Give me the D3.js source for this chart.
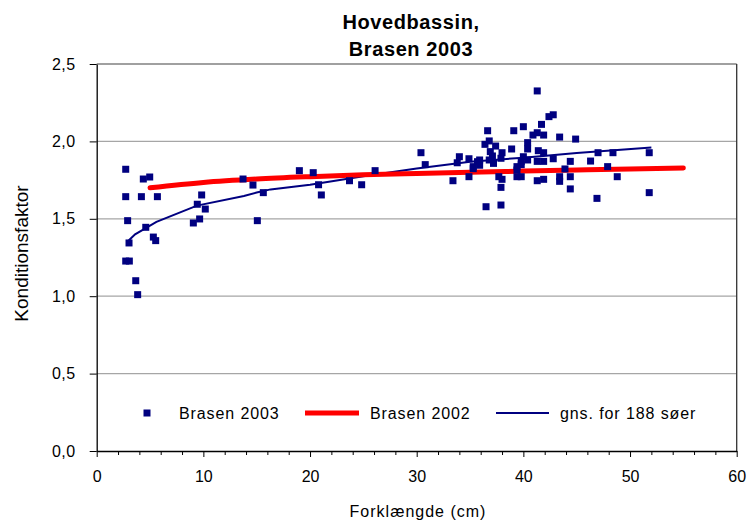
<!DOCTYPE html>
<html><head><meta charset="utf-8">
<script src="https://cdn.jsdelivr.net/npm/d3@7/dist/d3.min.js"></script>
<style>html,body{margin:0;padding:0;background:#fff;}svg{display:block;font-family:"Liberation Sans",Arial,sans-serif;}</style>
</head><body><svg id="c" width="749" height="522"></svg>
<script>
const titleLines = ["Hovedbassin,", "Brasen 2003"];
const xTitle = "Forklængde (cm)";
const yTitle = "Konditionsfaktor";
const xTicks = [0,10,20,30,40,50,60];
const yTicks = [0,0.5,1,1.5,2,2.5];
const seriesNames = ["Brasen 2003","Brasen 2002","gns. for 188 søer"];

// Brasen 2003 scatter (length cm, condition factor)
const lenBrasen2003 = [2.72,4.37,4.97,2.72,4.19,5.69,2.9,4.6,3.03,5.31,5.53,2.72,3.06,3.66,3.84,
 9.84,9.43,10.18,9.06,9.65,13.72,14.65,15.62,15.06,19.0,20.3,20.8,21.06,23.7,24.84,26.1,
 30.4,30.8,33.4,33.8,34.0,34.9,34.9,35.3,35.7,41.3,42.4,42.8,40.0,41.7,36.65,39.1,41.3,40.9,41.9,
 43.4,44.9,36.8,36.4,40.4,37.4,38.9,36.9,40.4,38.0,41.4,41.9,37.1,37.9,35.9,36.8,40.0,40.4,35.9,
 37.2,39.8,41.3,41.9,42.8,44.4,46.3,35.3,39.4,39.8,39.4,43.9,37.7,38.0,37.9,39.4,39.8,41.3,41.9,
 43.4,43.4,44.4,44.4,36.5,37.9,46.9,47.0,48.4,51.8,47.9,48.8,51.8];
const kBrasen2003 = [1.82,1.757,1.77,1.643,1.643,1.643,1.488,1.445,1.344,1.382,1.359,1.227,1.227,1.10,1.01,
 1.654,1.594,1.563,1.473,1.499,1.757,1.718,1.669,1.488,1.811,1.798,1.72,1.654,1.746,1.72,1.811,
 1.927,1.85,1.746,1.862,1.901,1.888,1.772,1.837,1.869,2.326,2.16,2.172,2.095,2.11,2.069,2.069,2.056,2.041,2.041,
 2.028,2.015,2.003,1.981,1.992,1.97,1.951,1.934,1.951,1.927,1.94,1.927,1.906,1.891,1.88,1.88,1.901,1.88,1.846,
 1.858,1.871,1.871,1.871,1.888,1.871,1.873,1.824,1.837,1.85,1.815,1.822,1.772,1.755,1.703,1.772,1.772,1.746,1.755,
 1.772,1.742,1.772,1.693,1.578,1.589,1.632,1.927,1.927,1.927,1.837,1.772,1.669];

// Brasen 2002 curve
const lenBrasen2002 = [5,10,15,20,25,30,35,40,45,50,55];
const kBrasen2002 = [1.70,1.735,1.757,1.772,1.784,1.793,1.801,1.808,1.815,1.822,1.828];

// average for 188 lakes
const lenAvg = [3,3.6,5.6,9.4,13.8,15,16.3,20,25,30,35,40,45,52];
const kAvg = [1.36,1.40,1.48,1.585,1.647,1.67,1.69,1.72,1.775,1.825,1.868,1.895,1.925,1.96];

const svg = d3.select("#c");
const m = {l:96.7, r:736.7, t:64, b:451};
const x = d3.scaleLinear().domain([0,60]).range([m.l,m.r]);
const y = d3.scaleLinear().domain([0,2.5]).range([m.b,m.t]);
const fmt = d => d3.format(".1f")(d).replace(".", ",");
const FF = "Liberation Sans, Arial, sans-serif";

// gridlines
svg.append("g").selectAll("line").data(yTicks.filter(d=>d>0)).join("line")
  .attr("x1",m.l).attr("x2",m.r).attr("y1",d=>y(d)).attr("y2",d=>y(d))
  .attr("stroke", d=> d===2.5 ? "#808080" : "#a6a6a6").attr("stroke-width",1.3);
// right border
svg.append("line").attr("x1",m.r).attr("x2",m.r).attr("y1",m.t).attr("y2",m.b).attr("stroke","#333").attr("stroke-width",1.3);

// axes
const yAxis = d3.axisLeft(y).tickValues(yTicks).tickFormat(fmt).tickSizeInner(7).tickSizeOuter(0).tickPadding(14);
const gy = svg.append("g").attr("transform",`translate(${m.l},0)`).call(yAxis);
gy.select(".domain").attr("stroke","#000").attr("stroke-width",1.3);
gy.selectAll(".tick line").attr("stroke","#000");
gy.selectAll("text").attr("font-size",16).attr("fill","#000").attr("letter-spacing","0.5px").style("font-family",FF);

const xMinor = d3.range(0,61,2).filter(d=>d%10!==0);
const gxm = svg.append("g").attr("transform",`translate(0,${m.b})`)
  .call(d3.axisBottom(x).tickValues(xMinor).tickFormat("").tickSizeInner(4).tickSizeOuter(0));
gxm.select(".domain").remove();
gxm.selectAll(".tick line").attr("stroke","#000");
const gx = svg.append("g").attr("transform",`translate(0,${m.b})`)
  .call(d3.axisBottom(x).tickValues(xTicks).tickFormat(d3.format("d")).tickSizeInner(6).tickSizeOuter(0).tickPadding(14));
gx.select(".domain").attr("stroke","#000").attr("stroke-width",1.3);
gx.selectAll(".tick line").attr("stroke","#000");
gx.selectAll("text").attr("font-size",16).attr("fill","#000").style("font-family",FF);

// lines
const line = d3.line().x(d=>x(d[0])).y(d=>y(d[1]));
svg.append("path").datum(lenAvg.map((v,i)=>[v,kAvg[i]])).attr("d",line)
  .attr("fill","none").attr("stroke","#000080").attr("stroke-width",2);
svg.append("path").datum(lenBrasen2002.map((v,i)=>[v,kBrasen2002[i]])).attr("d",d3.line().curve(d3.curveMonotoneX).x(d=>x(d[0])).y(d=>y(d[1])))
  .attr("fill","none").attr("stroke","#ff0000").attr("stroke-width",5).attr("stroke-linecap","round");

// markers
const ms = 7;
svg.append("g").selectAll("rect").data(lenBrasen2003.map((v,i)=>[v,kBrasen2003[i]])).join("rect")
  .attr("x",d=>x(d[0])-ms/2).attr("y",d=>y(d[1])-ms/2).attr("width",ms).attr("height",ms).attr("fill","#000080");

// legend
const ly = 413;
const lg = svg.append("g").attr("font-size",16).attr("fill","#000").attr("letter-spacing","0.9px");
lg.append("rect").attr("x",147-3.5).attr("y",ly-3.5).attr("width",7).attr("height",7).attr("fill","#000080");
lg.append("text").attr("x",179).attr("y",ly+6).text(seriesNames[0]);
lg.append("line").attr("x1",305).attr("x2",359).attr("y1",ly).attr("y2",ly).attr("stroke","#ff0000").attr("stroke-width",5);
lg.append("text").attr("x",370).attr("y",ly+6).text(seriesNames[1]);
lg.append("line").attr("x1",496).attr("x2",549).attr("y1",ly).attr("y2",ly).attr("stroke","#000080").attr("stroke-width",2);
lg.append("text").attr("x",560).attr("y",ly+6).text(seriesNames[2]);

// titles
svg.append("g").selectAll("text").data(titleLines).join("text")
  .attr("x",411).attr("y",(d,i)=>29+i*27).attr("text-anchor","middle")
  .attr("font-size",20).attr("font-weight","bold").attr("letter-spacing","0.6px").text(d=>d);
svg.append("text").attr("x",418).attr("y",517).attr("text-anchor","middle").attr("font-size",16).attr("letter-spacing","1px").text(xTitle);
svg.append("text").attr("transform",`translate(28,${(m.t+m.b)/2-4}) rotate(-90)`).attr("text-anchor","middle").attr("font-size",19).text(yTitle);
</script></body></html>
